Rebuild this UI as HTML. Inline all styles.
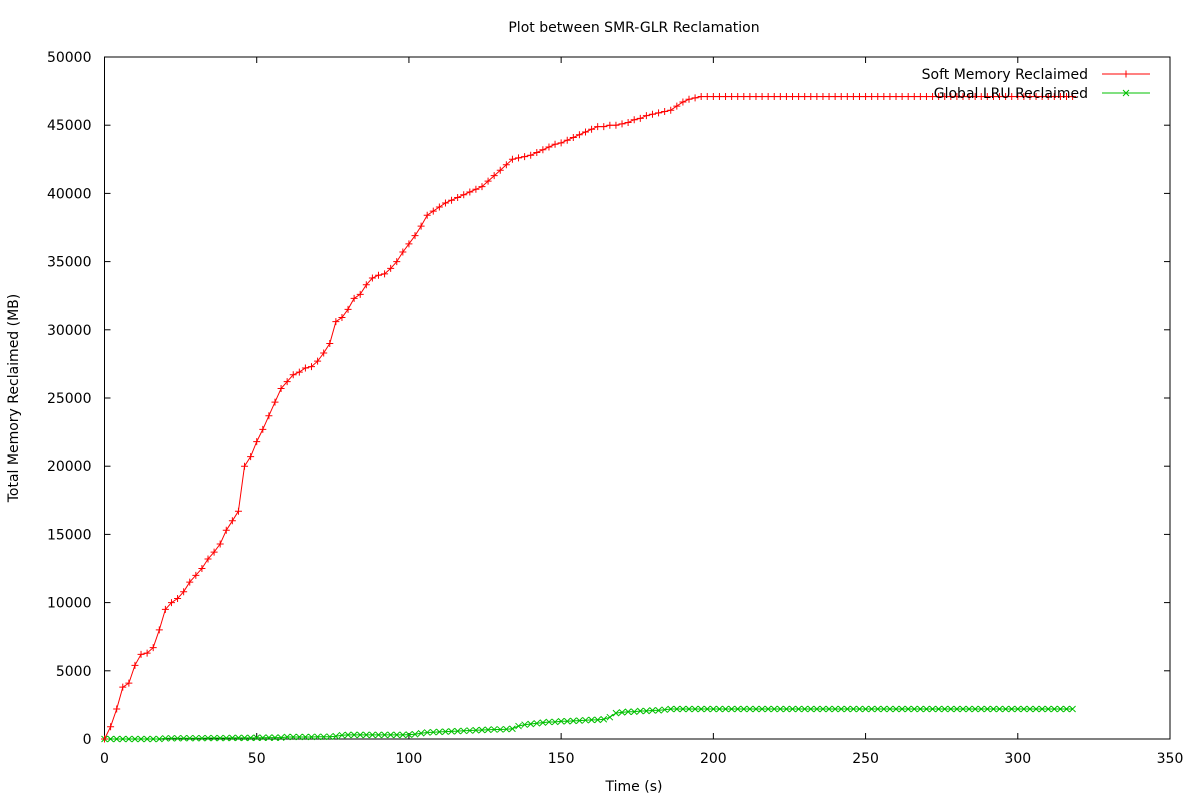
<!DOCTYPE html>
<html><head><meta charset="utf-8"><style>
html,body{margin:0;padding:0;background:#fff;}
svg{display:block;font-family:"DejaVu Sans","Liberation Sans",sans-serif;}
</style></head><body>
<svg id="chart" width="1200" height="800"></svg>
<script>
// time step (s) between samples; samples start at t=0
const timeStep = 2;
const softValues = [0,900,2200,3800,4100,5400,6200,6300,6700,8000,9500,10000,10300,10800,11500,12000,12500,13200,13700,14300,15300,16000,16700,20000,20700,21800,22700,23700,24700,25700,26200,26700,26900,27200,27300,27700,28300,29000,30600,30900,31500,32300,32600,33300,33800,34000,34100,34500,35000,35700,36300,36900,37600,38400,38700,39000,39300,39500,39700,39900,40100,40300,40500,40900,41300,41700,42100,42500,42600,42700,42800,43000,43200,43400,43600,43700,43900,44100,44300,44500,44700,44900,44900,45000,45000,45100,45200,45400,45500,45700,45800,45900,46000,46100,46400,46700,46900,47000,47100,
47100,47100,47100,47100,47100,47100,47100,47100,47100,47100,47100,47100,47100,47100,47100,47100,47100,47100,47100,47100,47100,47100,47100,47100,47100,47100,47100,47100,47100,47100,47100,47100,47100,47100,47100,47100,47100,47100,47100,47100,47100,47100,47100,47100,47100,47100,47100,47100,47100,47100,47100,47100,47100,47100,47100,47100,47100,47100,47100,47100,47100];
const globalValues = [0,0,0,0,0,0,0,0,0,0,
50,50,50,60,60,60,60,70,70,70,70,80,80,80,80,90,90,100,100,100,
150,150,150,150,150,160,160,170,200,
280,300,300,300,300,300,300,300,300,300,300,320,350,
420,480,500,520,540,560,580,600,
620,640,660,680,700,700,720,
750,950,
1050,1100,1150,1200,1250,1250,1300,1300,1330,1350,1380,
1400,1400,1450,1600,
1900,1950,2000,2000,2050,2050,2100,2100,2150,
2200,2200,2200,2200,2200,2200,2200,2200,2200,2200,2200,2200,2200,2200,2200,2200,2200,2200,2200,2200,2200,2200,2200,2200,2200,2200,2200,2200,2200,2200,2200,2200,2200,2200,2200,2200,2200,2200,2200,2200,2200,2200,2200,2200,2200,2200,2200,2200,2200,2200,2200,2200,2200,2200,2200,2200,2200,2200,2200,2200,2200,2200,2200,2200,2200,2200,2200];
const xTicks = [0,50,100,150,200,250,300,350];
const yTicks = [0,5000,10000,15000,20000,25000,30000,35000,40000,45000,50000];

const NS="http://www.w3.org/2000/svg";
const svg=document.getElementById('chart');
const L=104.5,R=1170,T=57,B=739;
const xs=v=>L+(v/350)*(R-L);
const ys=v=>B-(v/50000)*(B-T);
function mk(tag,attrs,parent){const e=document.createElementNS(NS,tag);for(const k in attrs)e.setAttribute(k,attrs[k]);(parent||svg).appendChild(e);return e;}

const frame=mk('rect',{x:L,y:T,width:R-L,height:B-T,fill:'none',stroke:'#000','stroke-width':1});



xTicks.forEach(v=>{
  const x=xs(v);
  const g=mk('g',{});
  
  
  mk('line',{x1:x,y1:B,x2:x,y2:B-6,stroke:'#000'},g);
  mk('line',{x1:x,y1:T,x2:x,y2:T+6,stroke:'#000'},g);
  const t=mk('text',{x:x,y:B+24,'text-anchor':'middle','font-size':14,fill:'#000'},g);t.textContent=v;
});
yTicks.forEach(v=>{
  const y=ys(v);
  const g=mk('g',{});
  
  
  mk('line',{x1:L,y1:y,x2:L+6,y2:y,stroke:'#000'},g);
  mk('line',{x1:R,y1:y,x2:R-6,y2:y,stroke:'#000'},g);
  const t=mk('text',{x:L-13,y:y+5,'text-anchor':'end','font-size':14,fill:'#000'},g);t.textContent=v;
});

const title=mk('text',{x:634,y:32,'text-anchor':'middle','font-size':14,fill:'#000'});title.textContent='Plot between SMR-GLR Reclamation';


const xl=mk('text',{x:634,y:791,'text-anchor':'middle','font-size':14,fill:'#000'});xl.textContent='Time (s)';


const yl=mk('text',{x:18,y:398,'text-anchor':'middle','font-size':14,fill:'#000',transform:'rotate(-90 18 398)'});yl.textContent='Total Memory Reclaimed (MB)';



function series(vals,color,marker,name){
  const g=mk('g',{});
  
  
  const pts=vals.map((v,i)=>xs(i*timeStep).toFixed(1)+','+ys(v).toFixed(1)).join(' ');
  mk('polyline',{points:pts,fill:'none',stroke:color,'stroke-width':1},g);
  let d='';
  vals.forEach((v,i)=>{const x=xs(i*timeStep),y=ys(v);
    if(marker==='+')d+=`M${x-3.5},${y}h7M${x},${y-3.5}v7`;
    else d+=`M${x-3},${y-3}l6,6M${x-3},${y+3}l6,-6`;});
  mk('path',{d:d,stroke:color,'stroke-width':1,fill:'none'},g);
}
series(globalValues,'#00c000','x','series-global-lru');
series(softValues,'#ff0000','+','series-soft-memory');

function legend(y,label,color,marker,name){
  const g=mk('g',{});
  
  
  const t=mk('text',{x:1088,y:y+5,'text-anchor':'end','font-size':14,fill:'#000'},g);t.textContent=label;
  mk('line',{x1:1102,y1:y,x2:1150,y2:y,stroke:color},g);
  const x=1126;
  const d=marker==='+'?`M${x-3.5},${y}h7M${x},${y-3.5}v7`:`M${x-3},${y-3}l6,6M${x-3},${y+3}l6,-6`;
  mk('path',{d:d,stroke:color,fill:'none'},g);
}
legend(74,'Soft Memory Reclaimed','#ff0000','+','legend-soft-memory');
legend(93,'Global LRU Reclaimed','#00c000','x','legend-global-lru');
</script>
</body></html>
